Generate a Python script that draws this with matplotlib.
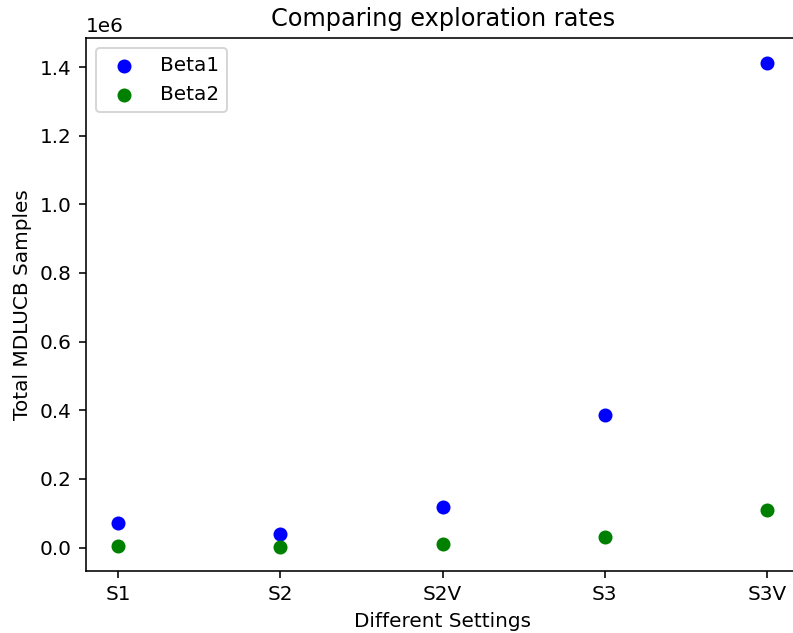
import matplotlib
matplotlib.use("Agg")
import matplotlib.pyplot as plt

settings = ["S1", "S2", "S2V", "S3", "S3V"]
beta1 = [72000, 40000, 117000, 386000, 1413000]
beta2 = [5000, 3000, 9000, 31000, 108000]

DPI = 144
fig = plt.figure(figsize=(793 / DPI, 633 / DPI), dpi=DPI)
ax = fig.add_axes([0.108, 0.0984, 0.9003, 0.841])
ax.scatter(settings, beta1, color="blue", s=36, label="Beta1")
ax.scatter(settings, beta2, color="green", s=36, label="Beta2")
ax.set_title("Comparing exploration rates")
ax.set_xlabel("Different Settings")
ax.set_ylabel("Total MDLUCB Samples")
ax.spines["right"].set_visible(False)
ax.legend(loc="upper left")
fig.savefig("out.png", dpi=DPI)
